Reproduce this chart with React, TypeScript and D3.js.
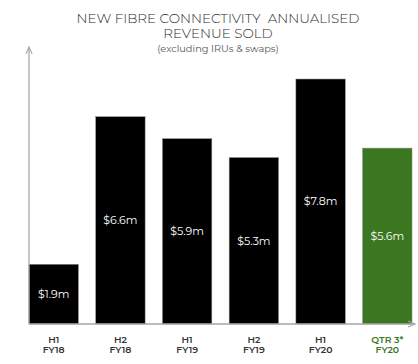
import { scaleBand, scaleLinear } from 'd3'

const categories = ['H1|FY18', 'H2|FY18', 'H1|FY19', 'H2|FY19', 'H1|FY20', 'QTR 3*|FY20']
const revenue = [1.9, 6.6, 5.9, 5.3, 7.8, 5.6]
const valueLabels = ['$1.9m', '$6.6m', '$5.9m', '$5.3m', '$7.8m', '$5.6m']
const highlighted = [false, false, false, false, false, true]

const width = 418
const height = 364
const baseY = 324
const axisX = 29

export default function App() {
  const x = scaleBand<string>()
    .domain(categories)
    .range([axisX, 412])
    .paddingInner(0.26)
    .paddingOuter(0)
  const y = scaleLinear().domain([0, 8.82]).range([baseY, 47])
  const font = 'Montserrat, Lato, "Open Sans", sans-serif'
  const green = '#3b7621'

  return (
    <svg
      width={width}
      height={height}
      style={{ position: 'absolute', left: 0, top: 0, background: '#fff' }}
      fontFamily={font}
    >
      <defs>
        <marker id="arr" viewBox="0 0 10 10" refX="9" refY="5" markerWidth="6" markerHeight="6" orient="auto">
          <path d="M0,1 L9,5 L0,9" fill="none" stroke="#a6a6a6" strokeWidth="1.4" />
        </marker>
      </defs>
      <text x={218} y={23} textAnchor="middle" fontSize={13.5} fill="#2e2e2e" fontWeight={300} style={{ whiteSpace: 'pre' }}>
        {'NEW FIBRE CONNECTIVITY  ANNUALISED'}
      </text>
      <text x={218} y={38} textAnchor="middle" fontSize={13.5} fill="#2e2e2e" fontWeight={300}>
        REVENUE SOLD
      </text>
      <text x={218} y={51.5} textAnchor="middle" fontSize={9.8} fill="#555">
        (excluding IRUs &amp; swaps)
      </text>
      {categories.map((c, i) => (
        <rect
          key={c + i}
          x={x(c)}
          y={y(revenue[i])}
          width={x.bandwidth()}
          height={baseY - y(revenue[i])}
          fill={highlighted[i] ? green : '#000'}
          stroke="#888"
          strokeWidth={0.5}
        />
      ))}
      {categories.map((c, i) => (
        <text
          key={'v' + i}
          x={(x(c) ?? 0) + x.bandwidth() / 2}
          y={(y(revenue[i]) + baseY) / 2}
          dy="0.35em"
          textAnchor="middle"
          fontSize={11}
          fill="#fff"
        >
          {valueLabels[i]}
        </text>
      ))}
      <line x1={axisX} y1={baseY} x2={axisX} y2={47} stroke="#a6a6a6" strokeWidth={1.3} markerEnd="url(#arr)" />
      <line x1={axisX} y1={baseY} x2={415} y2={baseY} stroke="#a6a6a6" strokeWidth={1.3} markerEnd="url(#arr)" />
      {categories.map((c, i) => {
        const [a, b] = c.split('|')
        const cx = (x(c) ?? 0) + x.bandwidth() / 2
        const col = highlighted[i] ? green : '#333'
        return (
          <g key={'l' + i} fontSize={9.3} fontWeight={600} fill={col} textAnchor="middle">
            <text x={cx} y={342.5}>{a}</text>
            <text x={cx} y={352.5}>{b}</text>
          </g>
        )
      })}
    </svg>
  )
}
